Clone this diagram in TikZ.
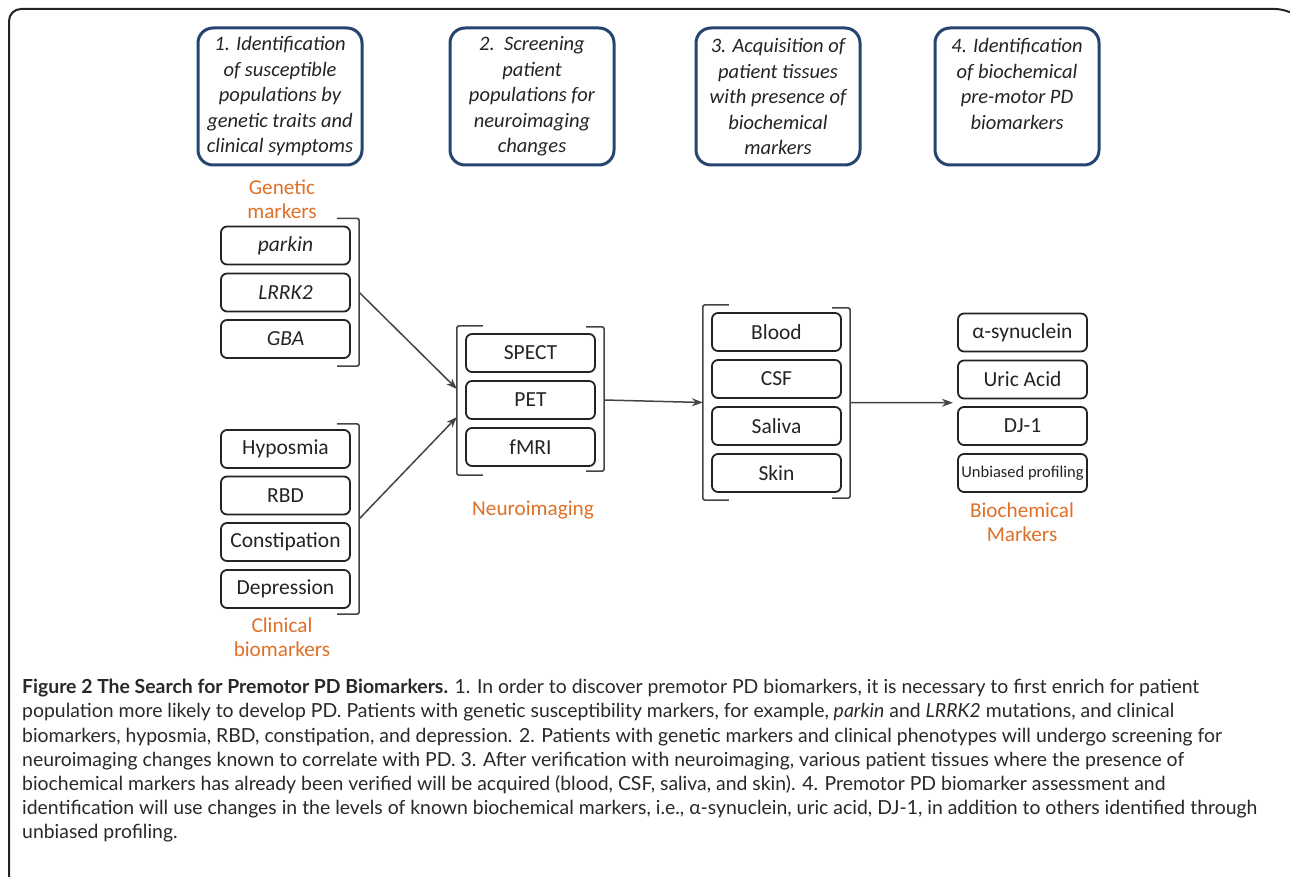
\documentclass[tikz,border=0pt]{standalone}
\usepackage{fontspec}
\setmainfont{Carlito}
\newfontfamily\capfont{Lato}
\usetikzlibrary{arrows.meta,fit,calc}
\definecolor{topblue}{RGB}{38,68,112}
\definecolor{lblorange}{RGB}{222,112,40}
\definecolor{ink}{RGB}{35,35,35}
\definecolor{capink}{RGB}{40,40,40}
\tikzset{
  topbox/.style={draw=topblue, line width=3, rounded corners=15, minimum width=164, minimum height=137,
    align=center, inner sep=0, text=ink, font=\fontsize{20.5}{25.5}\selectfont\itshape},
  item/.style={draw=ink, line width=1.8, rounded corners=6, minimum width=129, minimum height=38,
    inner sep=0, text=ink, font=\fontsize{21.5}{24}\selectfont},
  grp/.style={inner xsep=8, inner ysep=6},
  lbl/.style={text=lblorange, align=center, inner sep=0, font=\fontsize{21.2}{24.5}\selectfont},
  brk/.style={draw=ink!85, line width=1.6, rounded corners=2},
  conn/.style={draw=ink!85, line width=1.5, -{Stealth[length=11,width=8]}},
}
\begin{document}
\begin{tikzpicture}[x=1pt,y=-1pt]
\useasboundingbox (0,0) rectangle (1290,877);
% frame
\draw[line width=2, ink, rounded corners=12] (9,880) -- (9,9) -- (1287,9) -- (1293,13);

% top boxes
\node[topbox] (s1) at (280,96.5) {1. Identification\\of susceptible\\populations by\\genetic traits and\\clinical symptoms};
\node[topbox] (s2) at (532,96.5) {2.~~Screening\\patient\\populations for\\neuroimaging\\changes};
\node[topbox] (s3) at (778,96.5) {3. Acquisition of\\patient tissues\\with presence of\\biochemical\\markers};
\node[topbox] (s4) at (1017,96.5) {4. Identification\\of biochemical\\pre-motor PD\\biomarkers\\\mbox{}};

% genetic
\node[lbl] (genlbl) at (282,199) {Genetic\\markers};
\node[item] (parkin) at (285.5,245.5) {\itshape parkin};
\node[item] (lrrk) at (285.5,292.5) {\itshape LRRK2};
\node[item] (gba) at (285.5,339) {\itshape GBA};
\node[grp, inner ysep=7, fit=(parkin)(gba)] (gen) {};
\draw[brk] ($(gen.north east)+(-22,0)$) -- (gen.north east) -- (gen.south east) -- ++(-22,0);

% clinical
\node[item] (hypo) at (285.5,449) {Hyposmia};
\node[item] (rbd) at (285.5,495.5) {RBD};
\node[item] (const) at (285.5,542) {Constipation};
\node[item] (depr) at (285.5,589) {Depression};
\node[grp, inner ysep=5, fit=(hypo)(depr)] (clin) {};
\draw[brk] ($(clin.north east)+(-22,0)$) -- (clin.north east) -- (clin.south east) -- ++(-22,0);
\node[lbl] (clinlbl) at (282,637) {Clinical\\biomarkers};

% neuroimaging
\node[item] (spect) at (530.5,353) {SPECT};
\node[item] (pet) at (530.5,400) {PET};
\node[item] (fmri) at (530.5,447) {fMRI};
\node[grp, fit=(spect)(fmri)] (neuro) {};
\draw[brk] ($(neuro.north west)+(26,-1)$) -- ($(neuro.north west)+(0,-1)$) -- ($(neuro.south west)+(0,2)$) -- ++(26,0);
\draw[brk] ($(neuro.north east)+(-18,0)$) -- (neuro.north east) -- ($(neuro.south east)+(0,-2)$) -- ++(-18,0);
\node[lbl] (neurolbl) at (533,510) {Neuroimaging};

% tissues
\node[item] (blood) at (776.5,332) {Blood};
\node[item] (csf) at (776.5,379) {CSF};
\node[item] (saliva) at (776.5,426) {Saliva};
\node[item] (skin) at (776.5,473) {Skin};
\node[grp, fit=(blood)(skin)] (tis) {};
\draw[brk] ($(tis.north west)+(26,-1)$) -- ($(tis.north west)+(0,-1)$) -- ($(tis.south west)+(0,1)$) -- ++(26,0);
\draw[brk] ($(tis.north east)+(-18,2)$) -- ($(tis.north east)+(0,2)$) -- ($(tis.south east)+(0,-1)$) -- ++(-18,0);

% biochemical
\node[item] (asyn) at (1022.5,332.5) {α-synuclein};
\node[item] (uric) at (1022.5,379.5) {Uric Acid};
\node[item] (dj) at (1022.5,426) {DJ-1};
\node[item, font=\fontsize{16.5}{19}\selectfont] (unb) at (1022.5,473) {Unbiased profiling};
\node[inner xsep=4, inner ysep=0, fit=(asyn)(unb)] (bio) {};
\node[lbl] (biolbl) at (1022,522) {Biochemical\\Markers};

% connectors
\draw[conn] (gen.east) -- ($(neuro.west)+(0,-11)$);
\draw[conn] (clin.east) -- ($(neuro.west)+(0,17)$);
\draw[conn] (neuro.east) -- (tis.west);
\draw[conn] (tis.east) -- (bio.west);

% caption
\node[anchor=north west, align=left, inner sep=0, text=capink,
      font=\capfont\fontsize{19.4}{24.2}\selectfont] (cap) at (22,679)
{\textbf{Figure 2 The Search for Premotor PD Biomarkers.} 1. In order to discover premotor PD biomarkers, it is necessary to first enrich for patient\\
population more likely to develop PD. Patients with genetic susceptibility markers, for example, \textit{parkin} and \textit{LRRK2} mutations, and clinical\\
biomarkers, hyposmia, RBD, constipation, and depression. 2. Patients with genetic markers and clinical phenotypes will undergo screening for\\
neuroimaging changes known to correlate with PD. 3. After verification with neuroimaging, various patient tissues where the presence of\\
biochemical markers has already been verified will be acquired (blood, CSF, saliva, and skin). 4. Premotor PD biomarker assessment and\\
identification will use changes in the levels of known biochemical markers, i.e., α-synuclein, uric acid, DJ-1, in addition to others identified through\\
unbiased profiling.};
\end{tikzpicture}
\end{document}
